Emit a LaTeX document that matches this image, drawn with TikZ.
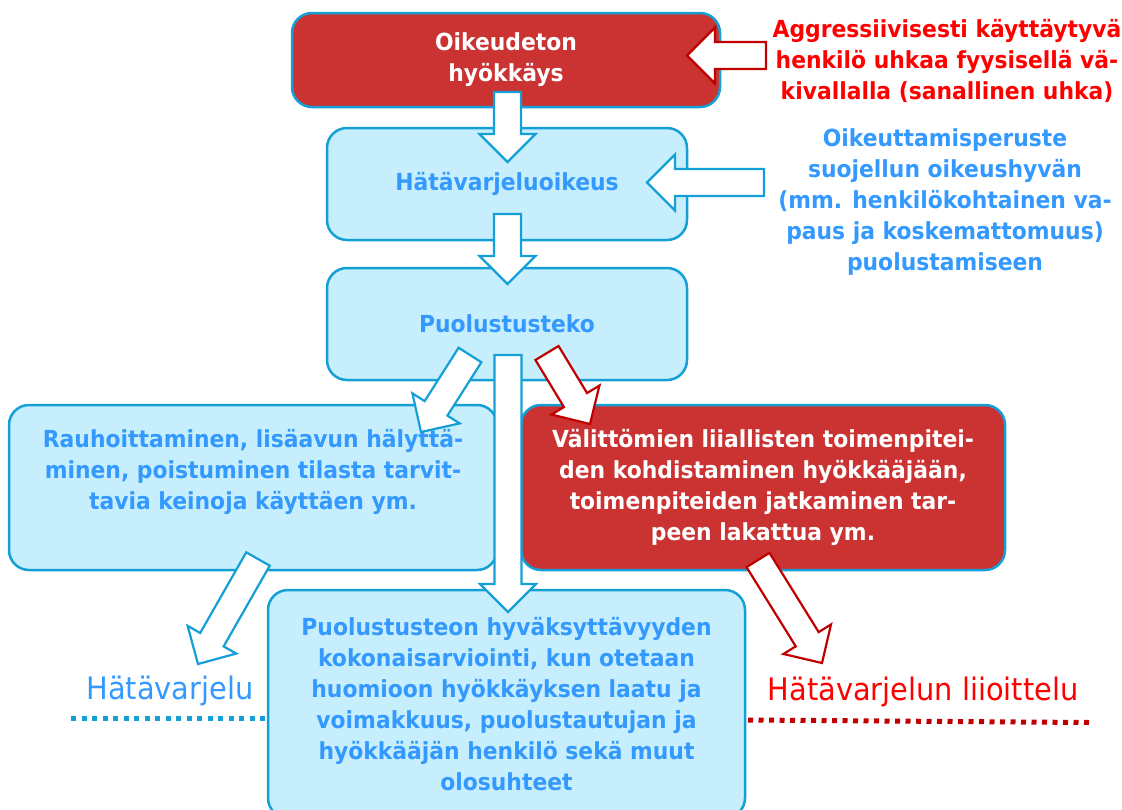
\documentclass[tikz,border=0pt]{standalone}
\usepackage{fontspec}
\setmainfont{DejaVu Sans}[FakeStretch=0.93]
\usetikzlibrary{positioning, calc}
\definecolor{boxred}{RGB}{203,51,51}
\definecolor{boxblue}{RGB}{198,238,252}
\definecolor{edgeblue}{RGB}{20,160,215}
\definecolor{textblue}{RGB}{51,153,255}
\definecolor{textred}{RGB}{255,0,0}
\definecolor{arrowred}{RGB}{192,0,0}
\newcommand{\boxfont}{\fontsize{23.5}{31}\selectfont}
\tikzset{
	x=1pt, y=-1pt, % one unit is one pixel, y grows downwards
	box/.style={draw=edgeblue, line width=2.5pt, rounded corners=20pt, align=center, font=\bfseries\boxfont, inner sep=0pt}, % every rounded box
	redbox/.style={box, fill=boxred, text=white},
	bluebox/.style={box, fill=boxblue, text=textblue},
	sidetext/.style={align=center, inner sep=0pt, font=\bfseries\boxfont}, % free text
	bigtext/.style={inner sep=0pt, font=\fontsize{31}{36}\selectfont}, % the two results
	bluearrow/.style={draw=edgeblue, fill=white, line width=2.2pt},
	redarrow/.style={draw=arrowred, fill=white, line width=2.2pt},
	dots/.style={line width=5pt, dash pattern=on 5pt off 5.5pt},
}
% hollow block arrow from #2 (tail) to #3 (tip), drawn with style #1
\newcommand{\blockarrow}[3]{%
	\coordinate (#3-b) at ($(#3)!28pt!(#2)$);
	\draw[#1] ($(#2)!13.5pt!90:(#3)$) -- ($(#3-b)!13.5pt!90:(#3)$) -- ($(#3-b)!28pt!90:(#3)$) -- (#3)
		-- ($(#3-b)!28pt!-90:(#3)$) -- ($(#3-b)!13.5pt!-90:(#3)$) -- ($(#2)!13.5pt!-90:(#3)$) -- cycle;
}

\begin{document}
\begin{tikzpicture}
	\useasboundingbox (0,0) rectangle (1122,809);
	\clip (0,0) rectangle (1122,809);

	\node[redbox, minimum width=428pt, minimum height=94pt] (hyok) at (506,60) {Oikeudeton\\hyökkäys};
	\node[bluebox, minimum width=360pt, minimum height=112pt] (oikeus) at (507,184) {Hätävarjeluoikeus};
	\node[bluebox, minimum width=360pt, minimum height=112pt] (teko) at (507,324) {Puolustusteko};
	\node[bluebox, minimum width=488pt, minimum height=165pt] (rauh) at (253,487.5) {};
	\node[redbox, minimum width=484pt, minimum height=165pt] (liial) at (763,487.5) {Välittömien liiallisten toimenpitei-\\den kohdistaminen hyökkääjään,\\toimenpiteiden jatkaminen tar-\\peen lakattua ym.};
	\node[bluebox, minimum width=477pt, minimum height=228pt] (arvio) at (506.5,704) {Puolustusteon hyväksyttävyyden\\kokonaisarviointi, kun otetaan\\huomioon hyökkäyksen laatu ja\\voimakkuus, puolustautujan ja\\hyökkääjän henkilö sekä muut\\olosuhteet};
	\node[sidetext, text=textblue, below=25pt of rauh.north] (rauhtext) {Rauhoittaminen, lisäavun hälyttä-\\minen, poistuminen tilasta tarvit-\\tavia keinoja käyttäen ym.};

	\node[sidetext, text=textred] (uhka) at (947,61) {Aggressiivisesti käyttäytyvä\\henkilö uhkaa fyysisellä vä-\\kivallalla (sanallinen uhka)};
	\node[sidetext, text=textblue] (peruste) at (945,202) {Oikeuttamisperuste\\suojellun oikeushyvän\\(mm. henkilökohtainen va-\\paus ja koskemattomuus)\\puolustamiseen};

	\node[bigtext, text=textblue] (hv) at (170,691) {Hätävarjelu};
	\node[bigtext, text=textred] (hvl) at (923,692) {Hätävarjelun liioittelu};
	\draw[dots, edgeblue] (71,718) -- (268,718);
	\draw[dots, arrowred] (748,720) -- (1090,722.5);

	% arrow ends
	\coordinate (a1s) at (507.5,92);  \coordinate (a1e) at (507.5,162);
	\coordinate (a2s) at (507.5,214); \coordinate (a2e) at (507.5,284);
	\coordinate (a3s) at (766,55.5);  \coordinate (a3e) at (687,55.5);
	\coordinate (a4s) at (764,182.5); \coordinate (a4e) at (647,182.5);
	\coordinate (a5s) at (470,355);   \coordinate (a5e) at (421,432);
	\coordinate (a6s) at (547,353);   \coordinate (a6e) at (590,424);
	\coordinate (a7s) at (508,355);   \coordinate (a7e) at (508,612);
	\coordinate (a8s) at (258,559);   \coordinate (a8e) at (198,664);
	\coordinate (a9s) at (758,560);   \coordinate (a9e) at (822,663);

	\blockarrow{bluearrow}{a1s}{a1e}
	\blockarrow{bluearrow}{a2s}{a2e}
	\blockarrow{redarrow}{a3s}{a3e}
	\blockarrow{bluearrow}{a4s}{a4e}
	\blockarrow{bluearrow}{a5s}{a5e}
	\blockarrow{redarrow}{a6s}{a6e}
	\blockarrow{bluearrow}{a7s}{a7e}
	\blockarrow{bluearrow}{a8s}{a8e}
	\blockarrow{redarrow}{a9s}{a9e}
\end{tikzpicture}
\end{document}
